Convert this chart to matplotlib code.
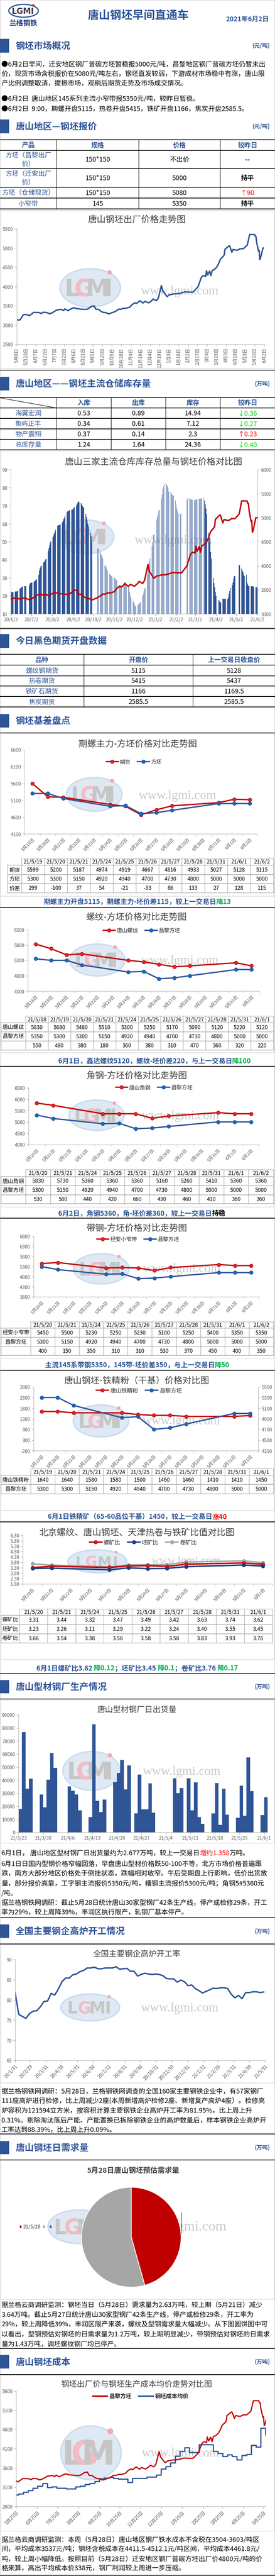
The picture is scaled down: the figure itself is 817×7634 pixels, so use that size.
import matplotlib
matplotlib.use('Agg')
import matplotlib.pyplot as plt
from matplotlib.patches import Rectangle, Ellipse, Circle
from matplotlib.lines import Line2D
import numpy as np
import pandas as pd

plt.rcParams['font.family'] = ['Noto Sans CJK SC', 'DejaVu Sans']
plt.rcParams['axes.unicode_minus'] = False

# ======================= DATA =======================
quote_products = ['方坯（昌黎出厂\n价）', '方坯（迁安出厂\n价）', '方坯（仓储现货）', '小窄带']
quote_specs = ['150*150', '150*150', '150*150', '145']
quote_prices = ['不出价', '5000', '5080', '5350']
quote_change = ['--', '持平', '↑90', '持平']

# 昌黎方坯出厂价
price_dates = ['2020-05-08','2020-05-13','2020-05-15','2020-05-18','2020-05-21','2020-05-25','2020-05-28','2020-06-01','2020-06-04','2020-06-08',
               '2020-06-12','2020-06-16','2020-06-19','2020-06-24','2020-06-29','2020-07-03','2020-07-07','2020-07-10','2020-07-14','2020-07-17',
               '2020-07-21','2020-07-23','2020-07-28','2020-07-31','2020-08-06','2020-08-11','2020-08-17','2020-08-21','2020-08-27','2020-08-31',
               '2020-09-03','2020-09-07','2020-09-10','2020-09-14','2020-09-18','2020-09-22','2020-09-25','2020-09-30','2020-10-09','2020-10-13',
               '2020-10-16','2020-10-19','2020-10-23','2020-10-27','2020-11-02','2020-11-06','2020-11-10','2020-11-13','2020-11-18','2020-11-23',
               '2020-11-26','2020-12-02','2020-12-07','2020-12-09','2020-12-14','2020-12-17','2020-12-22','2020-12-24','2020-12-28','2020-12-31',
               '2021-01-04','2021-01-07','2021-01-11','2021-01-15','2021-01-20','2021-01-25','2021-01-28','2021-02-03','2021-02-10','2021-02-18',
               '2021-02-20','2021-02-23','2021-02-26','2021-03-02','2021-03-03','2021-03-05','2021-03-08','2021-03-10','2021-03-12','2021-03-15',
               '2021-03-19','2021-03-22','2021-03-25','2021-03-29','2021-03-31','2021-04-01','2021-04-06','2021-04-08','2021-04-09','2021-04-12',
               '2021-04-14','2021-04-19','2021-04-21','2021-04-25','2021-04-30','2021-05-06','2021-05-07','2021-05-10','2021-05-17','2021-05-18',
               '2021-05-19','2021-05-20','2021-05-21','2021-05-24','2021-05-25','2021-05-26','2021-05-27','2021-05-28','2021-05-31','2021-06-01',
               '2021-06-02']
price_vals = [3130,3130,3170,3255,3275,3262,3241,3291,3327,3323,
              3323,3298,3330,3323,3291,3316,3355,3388,3398,3406,
              3377,3416,3370,3406,3449,3424,3413,3406,3406,3449,
              3484,3495,3406,3406,3352,3323,3323,3287,3341,3377,
              3413,3406,3434,3434,3459,3531,3574,3560,3628,3570,
              3613,3574,3635,3674,3631,3692,4025,3889,3799,3738,
              3789,3792,3810,3810,3821,3846,3860,3853,3853,4000,
              4100,4236,4283,4265,4408,4301,4401,4283,4419,4437,
              4497,4587,4712,4777,4820,4963,5035,5060,5035,4891,
              4963,4945,4945,4981,4981,5070,5124,5350,5350,5350,
              5300,5300,5150,4920,4940,4700,4730,4800,5000,5000,
              5000]

stock_names = ['海翼宏润', '象屿正丰', '物产震翔', '总库存量']
stock_in = ['0.53', '0.34', '0.37', '1.24']
stock_out = ['0.89', '0.61', '0.14', '1.64']
stock_total = ['14.94', '7.12', '2.3', '24.36']
stock_change = ['↓0.36', '↓0.27', '↑0.23', '↓0.40']

# 三家仓库库存总量 (万吨), Mon..Fri per week, None = no data
inv_week_start = '2020-06-01'
inv_weeks = [
    [None, 22.4, 22.1, 22.0, 21.9], [22.3, 22.3, 22.4, 22.6, 22.7], [23.8, 24.2, 24.6, 24.9, 25.1],
    [25.4, 25.4, 25.3, None, None], [26.0, 26.7, 27.2, 27.3, 27.5], [27.8, 28.2, 28.6, 29.0, 29.2],
    [31.7, 34.0, 35.5, 36.4, 36.6], [38.4, 38.9, 39.3, 40.1, 40.5], [44.8, 46.4, 47.9, 49.3, 50.4],
    [52.5, 53.5, 54.6, 55.6, 56.6], [58.9, 59.1, 59.2, 59.4, 59.5], [60.8, 61.5, 62.7, 63.4, 64.6],
    [66.5, 66.9, 67.0, 67.3, 67.5], [67.7, 67.8, 68.0, 68.8, 69.2], [70.0, 71.1, 71.9, 72.3, 72.1],
    [71.5, 70.7, 70.0, 69.3, 68.8], [65.4, 63.8, 61.9, 60.0, 58.5], [54.6, 53.1, 50.8, None, None],
    [None, None, None, None, 46.2], [44.5, 43.9, 42.8, 42.0, 40.9], [37.0, 36.6, 35.9, 34.7, 33.8],
    [32.1, 31.7, 31.3, 30.9, 30.5], [30.1, 29.8, 29.4, 29.0, 28.6], [25.9, 25.9, 25.7, 25.7, 25.5],
    [27.1, 27.5, 27.6, 27.1, 25.9], [24.8, 24.0, 22.1, 20.2, 18.7], [17.0, 16.4, 15.2, 14.4, 14.1],
    [14.7, 15.2, 15.6, 16.0, 16.5], [19.8, 21.0, 22.5, 24.0, 24.4], [31.7, 34.7, 37.8, 39.3, 40.9],
    [47.7, 50.0, 53.9, 54.3, None], [62.3, 63.8, 65.5, 67.3, 67.7], [73.8, 76.1, 79.1, 80.7, 82.4],
    [82.2, 81.8, 80.8, 79.9, 77.8], [77.6, 76.5, 76.1, 75.7, 75.5], [73.0, 70.7, 68.4, 66.9, 65.5],
    [65.5, 65.7, None, None, None], [None, None, None, 73.4, 74.0], [74.2, 73.8, 73.6, 73.4, 73.4],
    [73.2, 73.2, 73.4, 73.6, 73.8], [73.9, 73.9, 74.1, 73.9, 74.2], [74.2, 73.0, 70.7, 68.4, 65.4],
    [55.0, 52.3, 50.0, 44.3, 40.5], [30.1, 27.1, 24.8, 22.1, 20.0], [None, 17.7, 17.1, 16.6, 16.2],
    [18.5, 18.3, 18.3, 18.3, 18.5], [18.0, 19.0, 20.9, 22.5, 24.4], [25.9, 27.5, 29.4, 30.9, 30.8],
    [None, None, None, 36.9, 36.9], [35.1, 34.0, 33.2, 31.7, 30.9], [31.7, 27.5, 26.3, 25.5, 25.4],
    [25.2, 25.4, 25.3, 25.2, 24.9], [24.6, 24.76, 24.36, None, None],
]

fut_names = ['螺纹钢期货', '热卷期货', '铁矿石期货', '焦炭期货']
fut_open = ['5115', '5415', '1166', '2585.5']
fut_prev = ['5128', '5437', '1169.5', '2585.5']

# 期螺主力-方坯
a_cats = ['5月19日','5月20日','5月21日','5月22日','5月23日','5月24日','5月25日','5月26日','5月27日','5月28日','5月29日','5月30日','5月31日','6月1日','6月2日']
a_dates = ['21/5/19','21/5/20','21/5/21','21/5/24','21/5/25','21/5/26','21/5/27','21/5/28','21/5/31','21/6/1','21/6/2']
a_pos = [0, 1, 2, 5, 6, 7, 8, 9, 12, 13, 14]
a_fut = [5599, 5200, 5187, 4974, 4919, 4667, 4816, 4933, 5027, 5128, 5115]
a_billet = [5300, 5300, 5150, 4920, 4940, 4700, 4730, 4800, 5000, 5000, 5000]
a_spread = [299, -100, 37, 54, -21, -33, 86, 133, 27, 128, 115]

# 螺纹-方坯
b_cats = ['5月18日','5月19日','5月20日','5月21日','5月22日','5月23日','5月24日','5月25日','5月26日','5月27日','5月28日','5月29日','5月30日','5月31日','6月1日']
b_dates = ['21/5/18','21/5/19','21/5/20','21/5/21','21/5/24','21/5/25','21/5/26','21/5/27','21/5/28','21/5/31','21/6/1']
b_pos = [0, 1, 2, 3, 6, 7, 8, 9, 10, 13, 14]
b_rebar = [5830, 5680, 5480, 5510, 5300, 5250, 5170, 5090, 5120, 5220, 5120]
b_billet = [5350, 5300, 5300, 5150, 4920, 4940, 4700, 4730, 4800, 5000, 5000]
b_spread = [550, 480, 380, 180, 360, 380, 310, 470, 360, 320, 220]

# 角钢-方坯 / 带钢-方坯
c_cats = ['5月20日','5月21日','5月22日','5月23日','5月24日','5月25日','5月26日','5月27日','5月28日','5月29日','5月30日','5月31日','6月1日','6月2日']
c_dates = ['21/5/20','21/5/21','21/5/24','21/5/25','21/5/26','21/5/27','21/5/28','21/5/31','21/6/1','21/6/2']
c_pos = [0, 1, 4, 5, 6, 7, 8, 11, 12, 13]
c_angle = [5830, 5730, 5360, 5360, 5360, 5160, 5260, 5410, 5360, 5360]
c_billet = [5300, 5150, 4920, 4940, 4700, 4730, 4800, 5000, 5000, 5000]
c_spread = [530, 580, 440, 420, 660, 430, 460, 410, 360, 360]
d_strip = [5450, 5500, 5230, 5250, 5230, 5100, 5250, 5400, 5350, 5350]
d_billet = [5300, 5150, 4920, 4940, 4700, 4730, 4800, 5000, 5000, 5000]
d_spread = [400, 150, 350, 310, 310, 530, 370, 450, 400, 350]

# 钢坯-铁精粉
e_cats = ['5月19日','5月20日','5月21日','5月22日','5月23日','5月24日','5月25日','5月26日','5月27日','5月28日','5月29日','5月30日','5月31日','6月1日']
e_dates = ['21/5/19','21/5/20','21/5/21','21/5/24','21/5/25','21/5/26','21/5/27','21/5/28','21/5/31','21/6/1']
e_pos = [0, 1, 2, 5, 6, 7, 8, 9, 12, 13]
e_ore = [1640, 1640, 1580, 1580, 1500, 1460, 1460, 1410, 1410, 1450]
e_billet = [5300, 5300, 5150, 4920, 4940, 4700, 4730, 4800, 5000, 5000]

# 比值
f_cats = ['5月20日','5月21日','5月22日','5月23日','5月24日','5月25日','5月26日','5月27日','5月28日','5月29日','5月30日','5月31日','6月1日']
f_dates = ['21/5/20','21/5/21','21/5/24','21/5/25','21/5/26','21/5/27','21/5/28','21/5/31','21/6/1']
f_pos = [0, 1, 4, 5, 6, 7, 8, 11, 12]
f_rebar = [3.31, 3.44, 3.32, 3.47, 3.49, 3.42, 3.63, 3.74, 3.62]
f_billet = [3.23, 3.26, 3.11, 3.29, 3.22, 3.24, 3.40, 3.55, 3.45]
f_coil = [3.66, 3.54, 3.38, 3.56, 3.58, 3.58, 3.83, 3.93, 3.76]

# 型材钢厂日出货量 (吨)
exp_dates = ['2021-03-23','2021-03-24','2021-03-25','2021-03-26','2021-03-29','2021-03-30','2021-03-31','2021-04-01','2021-04-02','2021-04-06',
             '2021-04-07','2021-04-08','2021-04-09','2021-04-12','2021-04-13','2021-04-14','2021-04-15','2021-04-16','2021-04-19','2021-04-20',
             '2021-04-21','2021-04-22','2021-04-23','2021-04-25','2021-04-26','2021-04-27','2021-04-28','2021-04-29','2021-04-30','2021-05-06',
             '2021-05-07','2021-05-08','2021-05-10','2021-05-11','2021-05-12','2021-05-13','2021-05-14','2021-05-17','2021-05-18','2021-05-19',
             '2021-05-20','2021-05-21','2021-05-24','2021-05-25','2021-05-26','2021-05-27','2021-05-28','2021-05-31','2021-06-01']
exp_vals = [17900,76800,33400,41000,29000,19200,40400,60900,49500,35300,
            31700,29000,16700,11700,82700,24100,15600,25200,38600,45400,
            55400,32900,51300,14600,44100,17700,17700,37400,15100,41500,
            29900,33800,41500,16700,38300,11700,6400,14400,37800,5600,
            33400,13500,11200,35700,12800,57300,31500,13190,26770]

# 高炉开工率 (weekly from 2020-01-31)
bf_start = '2020-01-31'
bf_vals = [81.8, 76.4, 75.9, 75.4, 76.6, 77.2, 77.3, 78.3, 79.6, 79.7,
           81.6, 81.2, 82.7, 84.5, 85.4, 85.4, 86.2, 86.4, 87.0, 87.3,
           87.9, 87.9, 88.1, 87.7, 87.7, 87.9, 87.9, 87.9, 88.2, 87.6,
           87.7, 87.8, 87.1, 87.1, 85.9, 86.3, 86.6, 86.4, 86.3, 86.4,
           86.3, 86.0, 85.3, 85.2, 85.2, 84.4, 84.9, 84.5, 83.5, 83.7,
           82.8, 82.3, 81.7, 82.1, 82.5, 82.9, 82.8, 83.0, 83.0, 82.8,
           81.4, 80.5, 81.1, 80.3, 81.8, 81.8, 82.0, 82.0, 81.8, 81.95]
bf_ticks = ['2020-01-31','2020-02-29','2020-03-31','2020-04-30','2020-05-31','2020-06-30','2020-07-31','2020-08-31','2020-09-30',
            '2020-10-31','2020-11-30','2020-12-31','2021-01-31','2021-02-28','2021-03-31','2021-04-30','2021-05-31']

# 钢坯日需求量
demand_labels = ['型钢', '带钢', '螺纹']
demand_vals = [1.2, 1.43, 0.0]

# 钢坯成本均价 (weekly from 2020-05-22)
cost_start = '2020-05-22'
cost_vals = [2899, 2926, 2967, 3012, 3071, 3129, 3198, 3095, 3112, 3071,
             3078, 3053, 3053, 3112, 3129, 3167, 3198, 3253, 3318, 3336,
             3356, 3325, 3311, 3311, 3226, 3329, 3329, 3329, 3363, 3363,
             3415, 3570, 3639, 3735, 3904, 4034, 4127, 4007, 4007, 4206,
             4206, 4206, 4027, 3976, 3897, 3941, 3897, 3811, 3924, 3948,
             4189, 4144, 4637, 4462]

# ======================= FIGURE =======================
W, H = 817, 7635
fig = plt.figure(figsize=(W / 100, H / 100), dpi=100)
M = fig.add_axes([0, 0, 1, 1])
M.set_xlim(0, W)
M.set_ylim(H, 0)
M.axis('off')
R = fig.canvas.get_renderer()

BLUE = '#2F5597'; RED = '#C00000'; GREEN = '#00B050'; LGREEN = '#00D000'
TXT = '#000000'; TICK = '#595959'; AXC = '#A6A6A6'; BOX = '#D9D9D9'; TC = '#404040'
PFS = 14.2


def ax_px(x0, y0, x1, y1):
    a = fig.add_axes([x0 / W, 1 - y1 / H, (x1 - x0) / W, (y1 - y0) / H])
    a.set_facecolor('none')
    return a


def hline(y, x0=0, x1=W, c='black', lw=1.3):
    M.plot([x0, x1], [y, y], color=c, lw=lw, solid_capstyle='butt')


def vline(x, y0, y1, c='black', lw=1.0):
    M.plot([x, x], [y0, y1], color=c, lw=lw, solid_capstyle='butt')


def txt(x, y, s, fs=14, c=TXT, w='normal', ha='center', va='center', **kw):
    return M.text(x, y, s, fontsize=fs, color=c, fontweight=w, ha=ha, va=va, **kw)


def rich(x, y, segs, fs, ha='left'):
    widths = []
    for s, c, w in segs:
        t = M.text(0, 0, s, fontsize=fs, fontweight=w)
        widths.append(t.get_window_extent(R).width)
        t.remove()
    if ha == 'center':
        x -= sum(widths) / 2
    yb = y + fs * 100 / 72 * 0.37
    for (s, c, w), wd in zip(segs, widths):
        M.text(x, yb, s, fontsize=fs, color=c, fontweight=w, ha='left', va='baseline')
        x += wd


def para(x, ys, lines, fs=PFS):
    for y, line in zip(ys, lines):
        if isinstance(line, str):
            line = [(line, TXT, 'normal')]
        rich(x, y, line, fs)


def section(y0, y1, title, unit=None):
    M.add_patch(Rectangle((0, y0), 27, y1 - y0, facecolor=BLUE, edgecolor='none'))
    yc = (y0 + y1) / 2
    txt(46, yc, title, fs=19.5, c=BLUE, w='bold', ha='left')
    if unit:
        txt(802, yc, unit, fs=12, c=BLUE, w='bold', ha='right')


def box(y0, y1, x0=2, x1=815):
    M.add_patch(Rectangle((x0, y0), x1 - x0, y1 - y0, fill=False, edgecolor=BOX, lw=1.3))


def watermark(lx, ly, lw_, lh, tx, ty, fs=27):
    M.add_patch(Ellipse((lx, ly), lw_, lh, facecolor='#D6E4F2', edgecolor='#C3D7EC', lw=3, alpha=0.8, zorder=0))
    fl = lh * 0.62 * 72 / 100
    for dx, ch, col in [(-0.30, 'L', '#C6C6C6'), (-0.10, 'G', '#F2BCC4'), (0.12, 'M', '#C6C6C6'), (0.30, 'I', '#C6C6C6')]:
        M.text(lx + dx * lw_, ly + lh * 0.04, ch, fontsize=fl, color=col, fontweight='bold',
               ha='center', va='center', zorder=0, family='DejaVu Sans')
    M.add_patch(Circle((lx + 0.32 * lw_, ly - 0.40 * lh), max(lh * 0.05, 3), color='#F4A8B0', zorder=0))
    M.text(tx, ty, 'www.lgmi.com', fontsize=fs, color='#C9C9C9', family='Liberation Serif',
           ha='center', va='center', zorder=0)


def style(ax, left=True):
    for s in ['top', 'right']:
        ax.spines[s].set_visible(False)
    ax.spines['left'].set_color(AXC)
    ax.spines['bottom'].set_color(AXC)
    ax.spines['left'].set_visible(left)
    ax.tick_params(colors=AXC, labelcolor=TICK, labelsize=10, length=4, width=1)


def cat_x(ax, cats):
    n = len(cats)
    ax.set_xlim(-0.5, n - 0.5)
    ax.set_xticks(range(n))
    ax.set_xticklabels(cats, rotation=45, ha='right', va='top', rotation_mode='anchor', fontsize=9.5, color=TICK)
    ax.set_xticks(np.arange(-0.5, n, 1), minor=True)
    ax.tick_params(axis='x', which='major', length=0, pad=7)
    ax.tick_params(axis='x', which='minor', length=4, color=AXC)


def fig_legend(ax, handles, labels, cx, cy, fs=11.5, w='normal', hl=2.2):
    leg = ax.legend(handles, labels, loc='center', bbox_to_anchor=(cx / W, 1 - cy / H), bbox_transform=fig.transFigure,
                    ncol=len(handles), frameon=False, fontsize=fs, handlelength=hl, handletextpad=0.3,
                    columnspacing=1.3, borderpad=0)
    for t in leg.get_texts():
        t.set_color('#262626')
        t.set_fontweight(w)


def lh(color, mfc, mec):
    return Line2D([], [], color=color, lw=2.8, marker='o', ms=7.5, mfc=mfc, mec=mec)


def data_table(x_first, x0, x1, ys, headers, labels, rows, fs=11.5):
    lc = '#A6A6A6'
    n = len(headers)
    cw = (x1 - x0) / n
    M.plot([x0, x1], [ys[0]] * 2, color=lc, lw=1)
    for y in ys[1:]:
        M.plot([x_first, x1], [y] * 2, color=lc, lw=1.2)
    for i in range(n + 1):
        x = x0 + i * cw
        M.plot([x, x], [ys[0], ys[-1]], color=lc, lw=1)
    M.plot([x_first] * 2, [ys[1], ys[-1]], color=lc, lw=1)
    for i, hd in enumerate(headers):
        txt(x0 + (i + 0.5) * cw, (ys[0] + ys[1]) / 2, hd, fs=fs)
    for r, (lab, vals) in enumerate(zip(labels, rows)):
        yc = (ys[r + 1] + ys[r + 2]) / 2
        txt((x_first + x0) / 2, yc, lab, fs=fs)
        for i, v in enumerate(vals):
            txt(x0 + (i + 0.5) * cw, yc, str(v), fs=fs)


def two_lines(rect, cats, pos, s1, s2, labels, ylim, ystep, leg_c):
    ax = ax_px(*rect)
    ax.plot(pos, s1, color=RED, lw=2.8, marker='o', ms=7.5, mfc='#E0262C', mec='#C00000', zorder=3)
    ax.plot(pos, s2, color=BLUE, lw=2.8, marker='o', ms=7.5, mfc='#1668C4', mec='#1F4E9A', zorder=4)
    ax.set_ylim(*ylim)
    ax.set_yticks(np.arange(ylim[0], ylim[1] + 1, ystep))
    style(ax)
    cat_x(ax, cats)
    fig_legend(ax, [lh(RED, '#E0262C', RED), lh(BLUE, '#1668C4', '#1F4E9A')], labels, *leg_c)
    return ax


# ======================= PAGE =======================
M.add_patch(Rectangle((0.5, 0.5), W - 1, H - 1, fill=False, edgecolor='#D0D0D0', lw=1))

# header
M.add_patch(Ellipse((70, 33), 88, 38, facecolor='white', edgecolor=BLUE, lw=2.5))
txt(68, 34, 'LGMI', fs=17, c='#3C3C5A', w='bold', family='DejaVu Sans')
M.add_patch(Circle((99, 17), 3, color='#E02020'))
txt(70, 69, '兰格钢铁', fs=15, c='#1F3A7A', w='bold')
txt(411, 47, '唐山钢坯早间直通车', fs=24, c=BLUE, w='bold')
txt(735, 57, '2021年6月2日', fs=14, c=BLUE, w='bold')

# section 1
section(116, 157, '钢坯市场概况', '(元/吨)')
para(4, [190, 218, 247, 292, 322], [
    '●6月2日早间，迁安地区钢厂普碳方坯暂稳报5000元/吨，昌黎地区钢厂普碳方坯仍暂未出',
    '价，现货市场含税报价在5080元/吨左右，钢坯直发较弱，下游成材市场稳中有涨，唐山限',
    '产比例调整取消，提振市场，观稍后期货走势及市场成交情况。',
    '●6月2日  唐山地区145系列主流小窄带报5350元/吨，较昨日暂稳。',
    '●6月2日  9:00，期螺开盘5115，热卷开盘5415，铁矿开盘1166，焦炭开盘2585.5。',
])

# section 2 : quote table
section(355, 396, '唐山地区—钢坯报价', '(元/吨)')
t1y = [415, 447, 500, 556, 588, 620]
t1x = [0, 168, 412, 654, 817]
for y in t1y:
    hline(y, lw=1.5)
for x in t1x[1:-1]:
    vline(x, t1y[0], t1y[-1])
for i, hd in enumerate(['产品', '规格', '价格', '较昨日']):
    txt((t1x[i] + t1x[i + 1]) / 2, (t1y[0] + t1y[1]) / 2, hd, fs=14, c=BLUE, w='bold')
for r in range(4):
    yc = (t1y[r + 1] + t1y[r + 2]) / 2
    txt((t1x[0] + t1x[1]) / 2, yc, quote_products[r], fs=14, c=BLUE, linespacing=1.25)
    txt((t1x[1] + t1x[2]) / 2, yc, quote_specs[r], fs=14)
    txt((t1x[2] + t1x[3]) / 2, yc, quote_prices[r], fs=14)
    ch = quote_change[r]
    if ch.startswith('↑'):
        txt((t1x[3] + t1x[4]) / 2, yc, ch, fs=14, c='#FF0000')
    else:
        txt((t1x[3] + t1x[4]) / 2, yc, ch, fs=14, w='bold')

# chart 1 : price trend
box(625, 1093)
watermark(268, 854, 180, 114, 534, 864)
txt(406, 652, '唐山钢坯出厂价格走势图', fs=19, c=TC)
pdates = pd.to_datetime(price_dates)
ax1 = ax_px(49.5, 679, 785, 1021)
ax1.plot(pdates, price_vals, color=BLUE, lw=3)
ax1.set_ylim(2500, 5500)
ax1.set_yticks(range(2500, 5501, 500))
ax1.set_xlim(pd.Timestamp('2020-05-08'), pd.Timestamp('2021-06-02'))
tk1 = pd.date_range('2020-05-08', '2021-06-02', freq='15D')
ax1.set_xticks(tk1)
ax1.set_xticklabels([f'{d.month}月{d.day}日' for d in tk1], rotation=90, fontsize=9, color=TICK)
style(ax1)
hline(1098, lw=1.5)

# section 3 : inventory table
section(1118, 1158, '唐山地区——钢坯主流仓储库存量', '(万吨)')
t2y = [1179, 1210, 1241, 1272, 1303, 1334]
t2x = [0, 168, 330, 492, 654, 817]
for y in t2y:
    hline(y, lw=1.5)
for x in t2x[1:-1]:
    vline(x, t2y[0], t2y[-1])
M.plot([0, 168], [1180, 1210], color='black', lw=1)
for i, hd in enumerate(['入库', '出库', '库存', '较昨日']):
    txt((t2x[i + 1] + t2x[i + 2]) / 2, (t2y[0] + t2y[1]) / 2, hd, fs=14, c=BLUE, w='bold')
for r in range(4):
    yc = (t2y[r + 1] + t2y[r + 2]) / 2
    txt((t2x[0] + t2x[1]) / 2, yc, stock_names[r], fs=14, c=BLUE)
    txt((t2x[1] + t2x[2]) / 2, yc, stock_in[r], fs=14)
    txt((t2x[2] + t2x[3]) / 2, yc, stock_out[r], fs=14)
    txt((t2x[3] + t2x[4]) / 2, yc, stock_total[r], fs=14)
    col = '#FF0000' if stock_change[r].startswith('↑') else LGREEN
    txt((t2x[4] + t2x[5]) / 2, yc, stock_change[r], fs=14, c=col)

# chart 2 : inventory vs price
box(1337, 1860)
watermark(256, 1592, 165, 100, 515, 1602)
txt(456, 1370, '唐山三家主流仓库库存总量与钢坯价格对比图', fs=19, c=TC)
inv_d, inv_v = [], []
s0 = pd.Timestamp(inv_week_start)
for k, wk in enumerate(inv_weeks):
    for d, v in enumerate(wk):
        if v is not None:
            inv_d.append(s0 + pd.Timedelta(days=7 * k + d))
            inv_v.append(v)
ax2 = ax_px(32, 1393, 765, 1820)
ax2.bar(inv_d, inv_v, width=0.75, color=BLUE, zorder=2)
ax2.set_ylim(10, 90)
ax2.set_yticks(range(10, 91, 10))
ax2.set_xlim(pd.Timestamp('2020-06-01 14:00'), pd.Timestamp('2021-06-02 12:00'))
tk2 = pd.to_datetime(['2020-06-02', '2020-07-02', '2020-08-02', '2020-09-02', '2020-10-02', '2020-11-02', '2020-12-02',
                      '2021-01-02', '2021-02-02', '2021-03-02', '2021-04-02', '2021-05-02', '2021-06-02'])
ax2.set_xticks(tk2)
ax2.set_xticklabels([f'{d.year % 100}/{d.month}/{d.day}' for d in tk2], fontsize=10, color=TICK)
style(ax2)
ax2b = ax2.twinx()
ax2b.set_facecolor('none')
ax2b.plot(pdates, price_vals, color=RED, lw=3, zorder=3)
ax2b.set_ylim(3000, 6000)
ax2b.set_yticks(range(3000, 6001, 500))
for s in ['top', 'left']:
    ax2b.spines[s].set_visible(False)
ax2b.spines['right'].set_color(AXC)
ax2b.spines['bottom'].set_visible(False)
ax2b.tick_params(colors=AXC, labelcolor=TICK, labelsize=10, length=4)
hline(1864, lw=1.5)

# section 4 : futures
section(1880, 1921, '今日黑色期货开盘数据')
t3y = [1940, 1972, 2004, 2034, 2065, 2096]
t3x = [0, 249, 573, 817]
for y in t3y:
    hline(y, lw=1.5)
for x in t3x[1:-1]:
    vline(x, t3y[0], t3y[-1])
for i, hd in enumerate(['品种', '开盘价', '上一交易日收盘价']):
    txt((t3x[i] + t3x[i + 1]) / 2, (t3y[0] + t3y[1]) / 2, hd, fs=14, c=BLUE, w='bold')
for r in range(4):
    yc = (t3y[r + 1] + t3y[r + 2]) / 2
    txt((t3x[0] + t3x[1]) / 2, yc, fut_names[r], fs=14, c=BLUE)
    txt((t3x[1] + t3x[2]) / 2, yc, fut_open[r], fs=14)
    txt((t3x[2] + t3x[3]) / 2, yc, fut_prev[r], fs=14)

# section 5 : basis
section(2117, 2157, '钢坯基差盘点')
hline(2173, lw=1.5)

# chart A
box(2175, 2657)
watermark(280, 2355, 165, 100, 527, 2359)
txt(409, 2206, '期螺主力-方坯价格对比走势图', fs=19, c=TC)
two_lines((73, 2223, 765, 2472), a_cats, a_pos, a_fut, a_billet, ['期货', '方坯'], (4100, 6600), 500, (398, 2259))
data_table(22, 64, 812, [2544, 2565, 2593, 2619, 2647], a_dates, ['期货', '方坯', '价差'], [a_fut, a_billet, a_spread])
rich(408, 2672, [('期螺主力开盘5115，期螺主力-坯价差115，较上一交易日', BLUE, 'bold'), ('降13', GREEN, 'bold')], 14.5, ha='center')
hline(2690, lw=1.5)

# chart B
box(2692, 3121)
watermark(289, 2846, 165, 95, 534, 2848)
txt(406, 2719, '螺纹-方坯价格对比走势图', fs=19, c=TC)
two_lines((83, 2756, 770, 2938), b_cats, b_pos, b_rebar, b_billet, ['唐山螺纹', '昌黎方坯'], (4300, 6300), 500, (421, 2759))
data_table(3, 76, 812, [3012, 3032, 3059, 3086, 3113], b_dates, ['唐山螺纹', '昌黎方坯', ''], [b_rebar, b_billet, b_spread])
rich(459, 3144, [('6月1日，鑫达螺纹5120，螺纹-坯价差220，与上一交易日', BLUE, 'bold'), ('降100', GREEN, 'bold')], 14.5, ha='center')
hline(3161, lw=1.5)

# chart C
box(3163, 3578)
watermark(287, 3306, 165, 90, 536, 3308)
txt(406, 3189, '角钢-方坯价格对比走势图', fs=19, c=TC)
two_lines((85, 3225, 770, 3393), c_cats, c_pos, c_angle, c_billet, ['唐山角钢', '昌黎方坯'], (4000, 6500), 500, (458, 3224))
data_table(3, 76, 812, [3467, 3488, 3514, 3542, 3568], c_dates, ['唐山角钢', '昌黎方坯', ''], [c_angle, c_billet, c_spread])
rich(421, 3595, [('6月2日，角钢5360，角-坯价差360，较上一交易日', BLUE, 'bold'), ('持稳', '#000000', 'bold')], 14.5, ha='center')
hline(3611, lw=1.5)

# chart D
box(3613, 4026)
watermark(301, 3761, 165, 90, 540, 3761)
txt(406, 3641, '带钢-方坯价格对比走势图', fs=19, c=TC)
two_lines((100, 3665, 770, 3844), c_cats, c_pos, d_strip, d_billet, ['经安小窄带', '昌黎方坯'], (3800, 6800), 500, (410, 3674))
data_table(3, 91, 812, [3918, 3937, 3964, 3992, 4018], c_dates, ['经安小窄带', '昌黎方坯', ''], [d_strip, d_billet, d_spread])
rich(408, 4045, [('主流145系带钢5350，145带-坯价差350，与上一交易日', BLUE, 'bold'), ('降50', GREEN, 'bold')], 14.5, ha='center')
hline(4062, lw=1.5)

# chart E
box(4064, 4477)
watermark(300, 4212, 165, 95, 539, 4212)
txt(406, 4093, '唐山钢坯-铁精粉（干基）价格对比图', fs=19, c=TC)
axe = ax_px(100, 4111, 767, 4300)
axe.plot(e_pos, e_ore, color=RED, lw=2.8, marker='o', ms=7.5, mfc='#E0262C', mec=RED, zorder=3)
axe.set_ylim(-200, 2800)
axe.set_yticks(range(-200, 2801, 500))
style(axe)
cat_x(axe, e_cats)
axe2 = axe.twinx()
axe2.set_facecolor('none')
axe2.plot(e_pos, e_billet, color=BLUE, lw=2.8, marker='o', ms=7.5, mfc='#1668C4', mec='#1F4E9A', zorder=4)
axe2.set_ylim(4300, 5500)
axe2.set_yticks(range(4300, 5501, 200))
for s in ['top', 'left', 'bottom']:
    axe2.spines[s].set_visible(False)
axe2.spines['right'].set_color(AXC)
axe2.tick_params(colors=AXC, labelcolor=TICK, labelsize=10, length=4)
fig_legend(axe2, [lh(RED, '#E0262C', RED), lh(BLUE, '#1668C4', '#1F4E9A')], ['唐山铁精粉', '昌黎方坯'], 413, 4122, fs=12)
data_table(3, 91, 812, [4353, 4373, 4400, 4428], e_dates, ['唐山铁精粉', '昌黎方坯'], [e_ore, e_billet])
rich(408, 4494, [('6月1日铁精矿（65-60品位干基）1450，较上一交易日', BLUE, 'bold'), ('涨40', '#FF0000', 'bold')], 14.5, ha='center')
hline(4511, lw=1.5)

# chart F
box(4513, 4919)
watermark(289, 4628, 175, 68, 553, 4627, fs=24)
txt(406, 4543, '北京螺纹、唐山钢坯、天津热卷与铁矿比值对比图', fs=19, c=TC)
axf = ax_px(68, 4551, 810, 4695)
axf.plot(f_pos, f_coil, color='#A6A6A6', lw=3.2, marker='o', ms=7.5, mfc='#A6A6A6', mec='#A6A6A6', zorder=3)
axf.plot(f_pos, f_rebar, color=RED, lw=3.2, marker='o', ms=7.5, mfc='#D02020', mec=RED, zorder=4)
axf.plot(f_pos, f_billet, color='#203F80', lw=3.2, marker='o', ms=7.5, mfc='#1F3A78', mec='#1F3A78', zorder=5)
axf.set_ylim(1.8, 6.3)
axf.set_yticks(np.arange(1.8, 6.31, 0.5))
axf.set_yticklabels([f'{v:.2f}' for v in np.arange(1.8, 6.31, 0.5)])
style(axf)
cat_x(axf, f_cats)
fig_legend(axf, [lh(RED, '#D02020', RED), lh('#203F80', '#1F3A78', '#1F3A78'), lh('#A6A6A6', '#A6A6A6', '#A6A6A6')],
           ['螺矿比', '坯矿比', '卷矿比'], 425, 4572, fs=12)
data_table(3, 58, 809, [4769, 4788, 4815, 4843, 4870], f_dates, ['螺矿比', '坯矿比', '卷矿比'],
           [[f'{v:.2f}' for v in f_rebar], [f'{v:.2f}' for v in f_billet], [f'{v:.2f}' for v in f_coil]])
rich(408, 4943, [('6月1日螺矿比3.62 ', BLUE, 'bold'), ('降0.12', GREEN, 'bold'), ('；坯矿比3.45 ', BLUE, 'bold'),
                 ('降0.1', GREEN, 'bold'), ('；卷矿比3.76 ', BLUE, 'bold'), ('降0.17', GREEN, 'bold')], 14.5, ha='center')
hline(4960, lw=1.5)

# section : 型材
section(4980, 5019, '唐山型材钢厂生产情况', '(万吨)')
hline(5036, lw=1.5)
box(5039, 5463)
watermark(272, 5249, 170, 115, 540, 5251)
txt(406, 5067, '唐山型材钢厂日出货量', fs=17, c=TC)
axg = ax_px(55, 5083, 795, 5431)
axg.bar(pd.to_datetime(exp_dates), exp_vals, width=1.0, align='edge', color=BLUE, zorder=2)
axg.set_ylim(0, 90000)
axg.set_yticks(range(0, 90001, 10000))
axg.set_xlim(pd.Timestamp('2021-03-23'), pd.Timestamp('2021-06-02'))
tkg = pd.date_range('2021-03-23', '2021-06-01', freq='7D')
axg.set_xticks(tkg)
axg.set_xticklabels([f'{d.year % 100}/{d.month}/{d.day}' for d in tkg], fontsize=10, color=TICK)
style(axg)
para(4, [5491, 5522, 5551, 5581, 5610, 5638, 5667], [
    [('6月1日， 唐山地区型材钢厂日出货量约为2.677万吨，较上一交易日', TXT, 'normal'), ('增约1.358', '#FF0000', 'normal'), ('万吨。', TXT, 'normal')],
    '6月1日日国内型钢价格窄幅回落，早盘唐山型材价格跌50-100不等，北方市场价格普遍跟',
    '跌，南方大部分地区价格处于倒挂状态，跌幅相对收窄。午后受期盘上行影响，低价出货放',
    '量，部分报价高靠，工字钢主流报价5350元/吨，槽钢主流报价5300元/吨；角钢5#5360元',
    '/吨。',
    '据兰格钢铁网调研：截止5月28日统计唐山30家型钢厂42条生产线，停产或检修29条，开工',
    '率为29%，较上周降39%，丰润区执行限产，轧钢厂基本停产。',
])
hline(5684, lw=1.5)

# section : 高炉
section(5704, 5744, '全国主要钢企高炉开工情况', '(万吨)')
hline(5762, lw=1.5)
box(5763, 6174)
watermark(268, 5950, 175, 80, 534, 5952)
txt(406, 5791, '全国主要钢企高炉开工率', fs=17, c=TC)
axh = ax_px(45, 5808, 788, 6107)
bf_dates = pd.date_range(bf_start, periods=len(bf_vals), freq='7D')
axh.plot(bf_dates, bf_vals, color=BLUE, lw=3)
axh.set_ylim(65, 90)
axh.set_yticks(range(65, 91, 5))
axh.set_xlim(pd.Timestamp('2020-01-31'), pd.Timestamp('2021-05-31'))
tkh = pd.to_datetime(bf_ticks)
axh.set_xticks(tkh)
axh.set_xticklabels([f'{d.year % 100}/{d.month}/{d.day}' for d in tkh], rotation=45, ha='right', va='top',
                    rotation_mode='anchor', fontsize=10, color=TICK)
style(axh)
para(4, [6197, 6225, 6255, 6283, 6312], [
    '据兰格钢铁网调研：5月28日，兰格钢铁网调查的全国160家主要钢铁企业中，有57家钢厂',
    '111座高炉进行检修，比上周减少2座(本周新增高炉检修2座、新增复产高炉4座）。检修高',
    '炉容积为121594立方米，按容积计算主要钢铁企业高炉开工率为81.95%，比上周上升',
    '0.31%。剔除淘汰落后产能、产能置换已拆除钢铁企业的高炉数量后，样本钢铁企业高炉开',
    '工率达到88.39%，比上周上升0.09%。',
])
hline(6325, lw=1.5)

# section : 需求量
section(6346, 6385, '唐山钢坯日需求量', '(万吨)')
hline(6402, lw=1.5)
box(6403, 6815)
watermark(235, 6600, 185, 100, 545, 6600, fs=30)
txt(396, 6432, '5月28日唐山钢坯预估需求量', fs=15.5, c=TC, w='bold')
axp = ax_px(242, 6483, 538, 6779)
pie_colors = {'型钢': RED, '带钢': '#A6A6A6', '螺纹': BLUE}
pv = [(l, v) for l, v in zip(demand_labels, demand_vals) if v > 0]
axp.pie([v for _, v in pv], colors=[pie_colors[l] for l, _ in pv], startangle=90, counterclock=False,
        wedgeprops=dict(edgecolor='white', linewidth=1.5))
axp.set_xlim(-1, 1)
axp.set_ylim(-1, 1)
axp.set_aspect('equal')
txt(398, 6501, '0', fs=11, c='#262626')
txt(268, 6658, '1.43', fs=11, c='white')
M.plot([538, 538], [6558, 6621], color='black', lw=1)
M.add_patch(Rectangle((59, 6596), 5, 8, facecolor=RED, edgecolor='none'))
txt(68, 6600, '21/5/28', fs=10.5, c=TC, ha='left')
M.add_patch(Rectangle((128, 6596), 5, 8, facecolor='#A6A6A6', edgecolor='none'))
M.add_patch(Rectangle((148, 6596), 5, 8, facecolor=BLUE, edgecolor='none'))
para(4, [6831, 6859, 6888, 6917, 6946], [
    '据兰格云商调研监测：钢坯当日（5月28日）需求量为2.63万吨，较上期（5月21日）减少',
    '3.64万吨。截止5月27日统计唐山30家型钢厂42条生产线，停产或检修29条，开工率为',
    '29%，较上周降低39%，丰润区限产来袭，螺纹及型钢需求量大幅减少。从下图圆饼图中可',
    '以看出，型钢预估对钢坯的日需求量为1.2万吨，较上期明显减少，带钢预估对钢坯的日需求',
    '量为1.43万吨，调坯螺纹钢厂均已停产。',
])
hline(6961, lw=1.5)

# section : 成本
section(6980, 7020, '唐山钢坯成本', '(万吨)')
hline(7038, lw=1.5)
box(7040, 7502)
watermark(270, 7270, 180, 160, 536, 7271)
txt(406, 7066, '钢坯出厂价与钢坯生产成本均价走势对比图', fs=17, c=TC)
axj = ax_px(48, 7087, 790, 7429)
axj.plot(pdates, price_vals, color=RED, lw=2.6, zorder=3)
cost_dates = pd.date_range(cost_start, periods=len(cost_vals), freq='7D')
axj.plot(cost_dates, cost_vals, color=BLUE, lw=2.6, drawstyle='steps-post', zorder=2)
axj.set_ylim(2600, 5600)
axj.set_yticks(range(2600, 5601, 500))
axj.set_xlim(pd.Timestamp('2020-05-25'), pd.Timestamp('2021-05-28 12:00'))
tkj = pd.to_datetime(['2020-05-25', '2020-06-25', '2020-07-25', '2020-08-25', '2020-09-25', '2020-10-25', '2020-11-25',
                      '2020-12-25', '2021-01-25', '2021-02-25', '2021-03-25', '2021-04-25', '2021-05-25'])
axj.set_xticks(tkj)
axj.set_xticklabels([f'{d.month}月{d.day}日' for d in tkj], rotation=45, ha='right', va='top',
                    rotation_mode='anchor', fontsize=10, color=TICK)
style(axj)
fig_legend(axj, [Line2D([], [], color=RED, lw=3), Line2D([], [], color=BLUE, lw=3)], ['昌黎方坯', '钢坯成本均价'],
           418, 7103, fs=12, w='bold', hl=2.6)
para(4, [7526, 7553, 7583, 7610], [
    '据兰格云商调研监测：本周（5月28日）唐山地区钢厂铁水成本不含税在3504-3603/吨区',
    '间，平均成本3537元/吨；钢坯含税成本在4411.5-4512.1元/吨区间，平均成本4461.8元/',
    '吨，较上周小幅降低。按照目前（5月28日）迁安地区钢厂普碳方坯出厂价4800元/吨的价',
    '格来算，高出平均成本价338元，钢厂利润较上周进一步压缩。',
])
hline(7633, lw=1.5)

fig.savefig('out.png', dpi=100)
